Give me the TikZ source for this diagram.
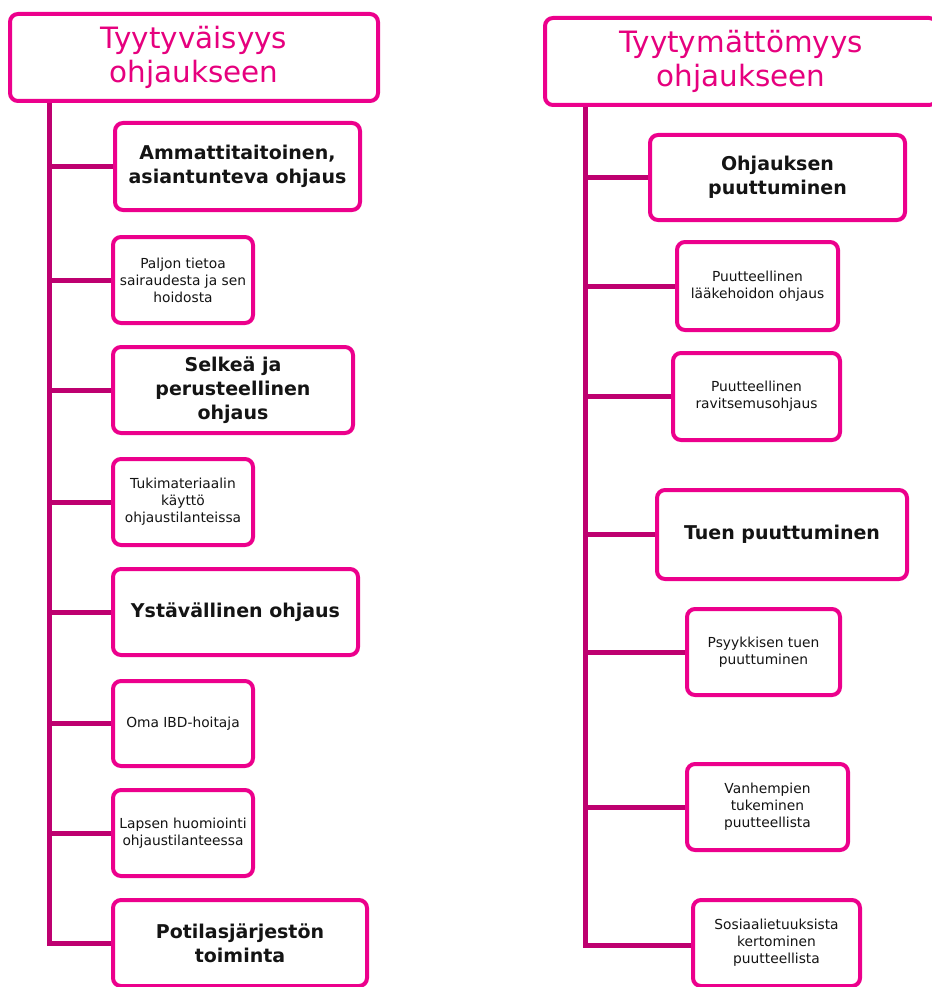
\documentclass[tikz,border=0pt]{standalone}
\usepackage{fontspec}
\setmainfont{DejaVu Sans}
\definecolor{boxpink}{RGB}{236,0,140}
\definecolor{linepink}{RGB}{190,0,112}
\definecolor{titlepink}{RGB}{230,0,126}
\definecolor{txt}{RGB}{20,20,20}
\tikzset{
  box/.style={draw=boxpink, line width=4pt, rounded corners=8pt, fill=white,
    align=center, inner sep=2pt, text=txt},
  titlebox/.style={box, text=titlepink, font=\fontsize{29.4}{34}\selectfont},
  bigbox/.style={box, font=\bfseries\fontsize{19}{24}\selectfont},
  smallbox/.style={box, font=\fontsize{13.8}{17}\selectfont},
  conn/.style={draw=linepink, line width=5pt, line join=miter}
}
\begin{document}
\begin{tikzpicture}[x=1pt,y=-1pt]
\useasboundingbox (0,0) rectangle (931,987);
% left column
\node[titlebox, minimum width=368pt, minimum height=87pt] (l0) at (194,57.5) {Tyytyväisyys\\ohjaukseen};
\node[bigbox, minimum width=245pt, minimum height=87pt] (l1) at (237.5,166.5) {Ammattitaitoinen,\\asiantunteva ohjaus};
\node[smallbox, minimum width=140pt, minimum height=86pt] (l2) at (183,280) {Paljon tietoa\\sairaudesta ja sen\\hoidosta};
\node[bigbox, minimum width=240pt, minimum height=86pt] (l3) at (233,390) {Selkeä ja\\perusteellinen\\ohjaus};
\node[smallbox, minimum width=140pt, minimum height=86pt] (l4) at (183,502) {Tukimateriaalin\\käyttö\\ohjaustilanteissa};
\node[bigbox, minimum width=245pt, minimum height=86pt] (l5) at (235.5,612) {Ystävällinen ohjaus};
\node[smallbox, minimum width=140pt, minimum height=85pt] (l6) at (183,723.5) {Oma IBD-hoitaja};
\node[smallbox, minimum width=140pt, minimum height=86pt] (l7) at (183,833) {Lapsen huomiointi\\ohjaustilanteessa};
\node[bigbox, minimum width=254pt, minimum height=86pt] (l8) at (240,943) {Potilasjärjestön\\toiminta};
\coordinate (lt) at (49.5,943);
\draw[conn] (lt |- l0.south) -- (lt) -- (l8.west);
\foreach \n in {l1,l2,l3,l4,l5,l6,l7} {\draw[conn] (lt |- \n.west) -- (\n.west);}
% right column
\node[titlebox, minimum width=392pt, minimum height=87pt] (r0) at (741,61.5) {Tyytymättömyys\\ohjaukseen};
\node[bigbox, minimum width=255pt, minimum height=85pt] (r1) at (777.5,177.5) {Ohjauksen\\puuttuminen};
\node[smallbox, minimum width=161pt, minimum height=88pt] (r2) at (757.5,286) {Puutteellinen\\lääkehoidon ohjaus};
\node[smallbox, minimum width=167pt, minimum height=87pt] (r3) at (756.5,396.5) {Puutteellinen\\ravitsemusohjaus};
\node[bigbox, minimum width=250pt, minimum height=89pt] (r4) at (782,534.5) {Tuen puuttuminen};
\node[smallbox, minimum width=153pt, minimum height=86pt] (r5) at (763.5,652) {Psyykkisen tuen\\puuttuminen};
\node[smallbox, minimum width=161pt, minimum height=86pt] (r6) at (767.5,807) {Vanhempien\\tukeminen\\puutteellista};
\node[smallbox, minimum width=167pt, minimum height=86pt] (r7) at (776.5,943) {Sosiaalietuuksista\\kertominen\\puutteellista};
\coordinate (rt) at (585,945);
\draw[conn] (rt |- r0.south) -- (rt) -- (rt -| r7.west);
\foreach \n in {r1,r2,r3,r4,r5,r6} {\draw[conn] (rt |- \n.west) -- (\n.west);}
\end{tikzpicture}
\end{document}
